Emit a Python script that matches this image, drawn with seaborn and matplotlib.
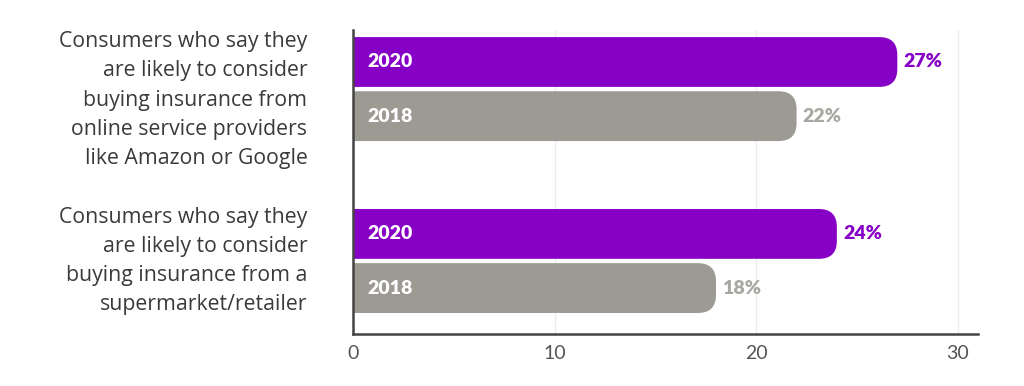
import matplotlib
matplotlib.use("Agg")
import matplotlib.pyplot as plt
import matplotlib.transforms as mtransforms
import seaborn as sns
import pandas as pd
from matplotlib.patches import FancyBboxPatch

categories = [
    "Consumers who say they\nare likely to consider\nbuying insurance from\nonline service providers\nlike Amazon or Google",
    "Consumers who say they\nare likely to consider\nbuying insurance from a\nsupermarket/retailer",
]
years = ["2020", "2018"]
values_2020 = [27, 24]
values_2018 = [22, 18]
x_ticks = [0, 10, 20, 30]

PURPLE = "#8700c6"
GRAY = "#9c9a92"
GRAY_TXT = "#a9a7a1"

df = pd.DataFrame({
    "category": categories * 2,
    "year": [years[0]] * 2 + [years[1]] * 2,
    "value": values_2020 + values_2018,
})

sns.set_theme(style="white")
plt.rcParams["font.family"] = ["Lato", "DejaVu Sans"]

fig = plt.figure(figsize=(10.24, 3.86), dpi=100)
ax = fig.add_axes([0.345, 0.135, 0.61, 0.787])

sns.barplot(
    data=df, y="category", x="value", hue="year", hue_order=years,
    palette=[PURPLE, GRAY], orient="h", width=0.63, gap=0.08,
    legend=False, ax=ax, saturation=1,
)

ax.set_xlim(0, 31)
ax.set_ylim(1.424, -0.343)

# swap the rectangles for bars with a rounded right end
fig.canvas.draw()
px_per_x = ax.transData.transform((1, 0))[0] - ax.transData.transform((0, 0))[0]
px_per_y = abs(ax.transData.transform((0, 1))[1] - ax.transData.transform((0, 0))[1])
bars = list(ax.patches)
for p in bars:
    x0, y0 = p.get_x(), p.get_y()
    w, h = p.get_width(), p.get_height()
    r = 18 / px_per_x
    box = FancyBboxPatch(
        (x0 - r, y0), w + r, h,
        boxstyle=f"round,pad=0,rounding_size={r}",
        mutation_aspect=px_per_x / px_per_y,
        facecolor=p.get_facecolor(), edgecolor="none", zorder=2,
    )
    box.set_clip_path(ax.patch)
    ax.add_patch(box)
    p.set_visible(False)

# year inside the bar, value after it
for p in bars:
    yc = p.get_y() + p.get_height() / 2
    w = p.get_width()
    is_2020 = tuple(p.get_facecolor()[:3]) == matplotlib.colors.to_rgb(PURPLE)
    year = years[0] if is_2020 else years[1]
    ax.text(0.72, yc, year, color="white", fontsize=14, fontweight="heavy",
            va="center", ha="left", zorder=3)
    ax.text(w + 0.3, yc, f"{w:.0f}%", color=PURPLE if is_2020 else GRAY_TXT,
            fontsize=14, fontweight="heavy", va="center", ha="left", zorder=3)

ax.set_xticks(x_ticks)
ax.set_xticklabels([str(t) for t in x_ticks], color="#555555", fontsize=14)
ax.tick_params(axis="x", length=0, pad=8)
ax.tick_params(axis="y", length=0, pad=33)
for i, lbl in enumerate(ax.get_yticklabels()):
    lbl.set_family(["Open Sans", "DejaVu Sans"])
    lbl.set_fontsize(15.3)
    lbl.set_color("#3a3a3a")
    lbl.set_ha("right")
    lbl.set_va("center")
    lbl.set_linespacing(1.52)
    if i == 0:
        # the first block sits a little lower than its bars in the original
        shift = mtransforms.ScaledTranslation(0, -8 / 72, fig.dpi_scale_trans)
        lbl.set_transform(lbl.get_transform() + shift)

ax.set_xlabel("")
ax.set_ylabel("")
ax.grid(axis="x", color="#ececec", linewidth=1)
ax.set_axisbelow(True)
sns.despine(ax=ax, top=True, right=True)
for side in ["left", "bottom"]:
    ax.spines[side].set_color("#444444")
    ax.spines[side].set_linewidth(1.8)

fig.savefig("out.png", dpi=100)
